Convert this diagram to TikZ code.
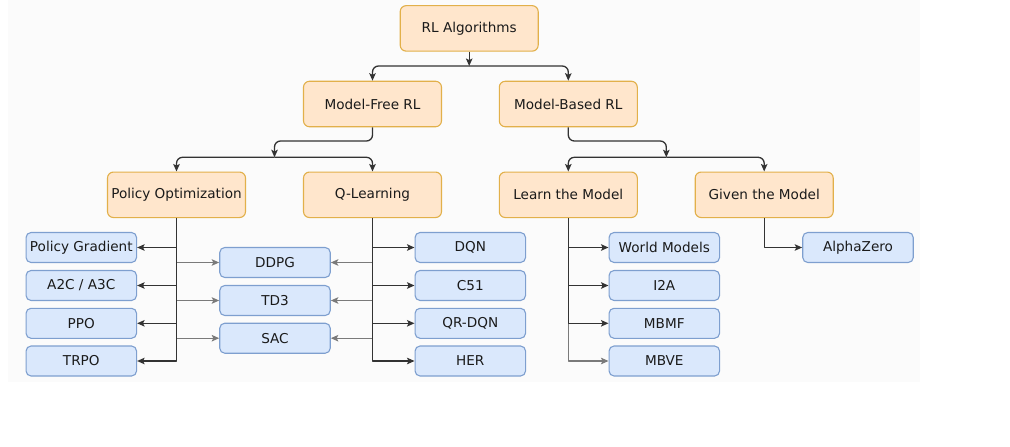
\documentclass[tikz,border=0pt]{standalone}
\usepackage{fontspec}
\setmainfont{DejaVu Sans}
\usetikzlibrary{arrows.meta}
\definecolor{orfill}{HTML}{FFE6CC}
\definecolor{ordraw}{HTML}{E2B04A}
\definecolor{blfill}{HTML}{DAE8FC}
\definecolor{bldraw}{HTML}{7E9FCF}
\definecolor{panel}{HTML}{FBFBFB}
\definecolor{dk}{HTML}{333333}
\definecolor{gr}{HTML}{7A7A7A}
\definecolor{txt}{HTML}{1A1A1A}
\tikzset{
  catbox/.style={draw=ordraw, fill=orfill, line width=1.1pt, rounded corners=6pt,
    minimum width=138pt, minimum height=45.5pt, inner sep=0pt,
    font=\fontsize{13.6}{15}\selectfont, text=txt},
  algbox/.style={draw=bldraw, fill=blfill, line width=1.1pt, rounded corners=5pt,
    minimum width=110.5pt, minimum height=30pt, inner sep=0pt,
    font=\fontsize{13.6}{15}\selectfont, text=txt},
  tip/.style={-{Stealth[length=7.5pt,width=6.5pt,inset=1.6pt]}},
  arr/.style={tip, draw=dk, line width=1.3pt, line join=round},
  garr/.style={tip, draw=gr, line width=1.3pt, line join=round},
  curved/.style={rounded corners=6pt}
}
\begin{document}
\begin{tikzpicture}[x=1pt,y=-1pt]
  % canvas and light panel
  \useasboundingbox (0,0) rectangle (1010,447);
  \fill[white] (0,0) rectangle (1010,447);
  \fill[panel] (8,0) rectangle (920,382);

  % category boxes
  \node[catbox] (rl) at (469.2,28.4) {RL Algorithms};
  \node[catbox] (mf) at (372.5,104) {Model-Free RL};
  \node[catbox] (mb) at (568.3,104) {Model-Based RL};
  \node[catbox] (po) at (176.5,194.8) {Policy Optimization};
  \node[catbox] (ql) at (372.5,194.8) {Q-Learning};
  \node[catbox] (lm) at (568.3,194.8) {Learn the Model};
  \node[catbox] (gm) at (764.2,194.8) {Given the Model};

  % algorithm boxes
  \node[algbox] (pg)   at (81.3,247.5) {Policy Gradient};
  \node[algbox] (a2c)  at (81.3,285.5) {A2C / A3C};
  \node[algbox] (ppo)  at (81.3,323.3) {PPO};
  \node[algbox] (trpo) at (81.3,361)   {TRPO};
  \node[algbox] (ddpg) at (275,262.5)  {DDPG};
  \node[algbox] (td3)  at (275,300.5)  {TD3};
  \node[algbox] (sac)  at (275,338.2)  {SAC};
  \node[algbox] (dqn)  at (470.3,247.5) {DQN};
  \node[algbox] (c51)  at (470.3,285.5) {C51};
  \node[algbox] (qrd)  at (470.3,323.3) {QR-DQN};
  \node[algbox] (her)  at (470.3,361)   {HER};
  \node[algbox] (wm)   at (664.3,247.5) {World Models};
  \node[algbox] (i2a)  at (664.3,285.5) {I2A};
  \node[algbox] (mbmf) at (664.3,323.3) {MBMF};
  \node[algbox] (mbve) at (664.3,361)   {MBVE};
  \node[algbox] (az)   at (858,247.5)   {AlphaZero};

  % junction points of the upper levels
  \coordinate (j0) at (469.2,66);
  \coordinate (j1) at (274.5,157.3);
  \coordinate (j2) at (666.3,157.3);

  % top split
  \draw[arr] (rl.south) -- (j0);
  \draw[arr, curved] (j0) -| (mf.north);
  \draw[arr, curved] (j0) -| (mb.north);

  % model-free split
  \draw[arr, curved] (mf.south) |- (320,141) -| (j1);
  \draw[arr, curved] (j1) -| (po.north);
  \draw[arr, curved] (j1) -| (ql.north);

  % model-based split
  \draw[arr, curved] (mb.south) |- (620,141) -| (j2);
  \draw[arr, curved] (j2) -| (lm.north);
  \draw[arr, curved] (j2) -| (gm.north);

  % shared algorithms (lighter links)
  \draw[garr] (po.south) |- (ddpg.west);
  \draw[garr] (po.south) |- (td3.west);
  \draw[garr] (po.south) |- (sac.west);
  \draw[garr] (ql.south) |- (ddpg.east);
  \draw[garr] (ql.south) |- (td3.east);
  \draw[garr] (ql.south) |- (sac.east);
  \draw[garr] (lm.south) |- (mbve.west);

  % policy optimization
  \draw[arr] (po.south) |- (trpo.east);
  \draw[arr] (po.south) |- (ppo.east);
  \draw[arr] (po.south) |- (a2c.east);
  \draw[arr] (po.south) |- (pg.east);

  % q-learning
  \draw[arr] (ql.south) |- (her.west);
  \draw[arr] (ql.south) |- (qrd.west);
  \draw[arr] (ql.south) |- (c51.west);
  \draw[arr] (ql.south) |- (dqn.west);

  % learn the model
  \draw[arr] (lm.south) |- (mbmf.west);
  \draw[arr] (lm.south) |- (i2a.west);
  \draw[arr] (lm.south) |- (wm.west);

  % given the model
  \draw[arr] (gm.south) |- (az.west);
\end{tikzpicture}
\end{document}
